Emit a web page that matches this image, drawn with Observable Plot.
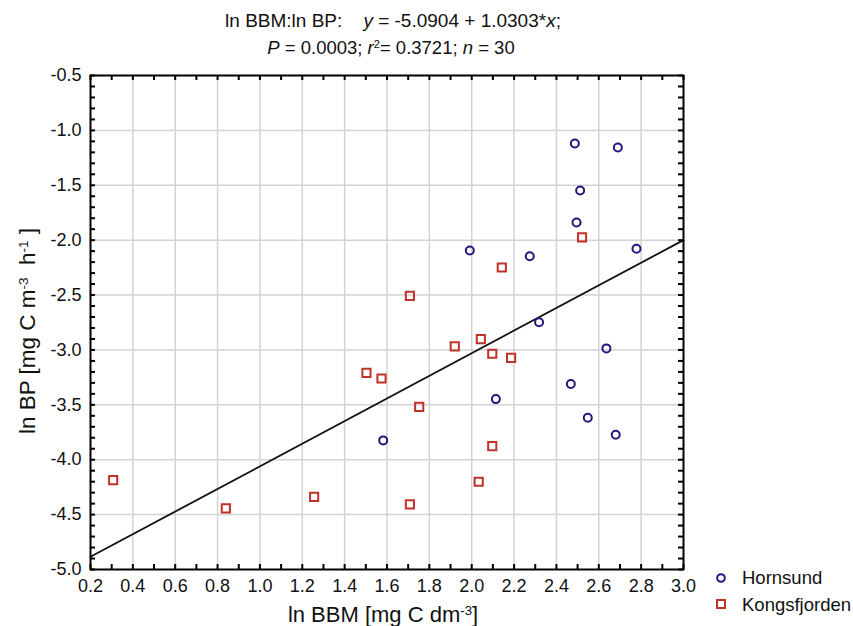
<!DOCTYPE html>
<html><head><meta charset="utf-8">
<script src="https://cdn.jsdelivr.net/npm/d3@7"></script>
<script src="https://cdn.jsdelivr.net/npm/@observablehq/plot@0.6"></script>
<style>
body{margin:0;background:#fff;}
svg{font-family:"Liberation Sans",Arial,sans-serif;}
</style>
</head><body><div id="chart"></div>
<script>
// Hornsund (circles)
const hornsundX = [2.487, 2.690, 2.512, 2.495, 1.991, 2.274, 2.778, 2.318, 2.636, 2.468, 2.114, 2.548, 2.680, 1.582];
const hornsundY = [-1.119, -1.156, -1.547, -1.839, -2.094, -2.146, -2.079, -2.747, -2.986, -3.311, -3.448, -3.618, -3.773, -3.824];
// Kongsfjorden (squares)
const kongsX = [2.521, 2.142, 1.708, 2.043, 1.920, 2.097, 2.186, 1.503, 1.574, 1.752, 2.097, 2.033, 1.708, 0.307, 0.839, 1.256];
const kongsY = [-1.975, -2.249, -2.507, -2.902, -2.968, -3.035, -3.072, -3.209, -3.260, -3.518, -3.876, -4.201, -4.407, -4.186, -4.443, -4.338];
// Regression
const intercept = -5.0904;
const slope = 1.0303;
const lineXs = [0.2, 3.0];
// Ticks
const xTicks = [0.2, 0.4, 0.6, 0.8, 1.0, 1.2, 1.4, 1.6, 1.8, 2.0, 2.2, 2.4, 2.6, 2.8, 3.0];
const yTicks = [-0.5, -1.0, -1.5, -2.0, -2.5, -3.0, -3.5, -4.0, -4.5, -5.0];
const xMinor = d3.range(2, 31).map(i => i / 10);
const yMinor = d3.range(5, 51).map(i => -i / 10);

const hornColor = "#2b137f";
const kongColor = "#c0312a";

const horn = hornsundX.map((x, i) => ({x, y: hornsundY[i]}));
const kong = kongsX.map((x, i) => ({x, y: kongsY[i]}));
const reg = lineXs.map(x => ({x, y: intercept + slope * x}));

const W = 853, H = 626, mT = 75, mB = 57, mL = 90, mR = 170;
const plotW = W - mL - mR, plotH = H - mT - mB, tk = 5;

const chart = Plot.plot({
  width: W, height: H,
  marginTop: mT, marginBottom: mB, marginLeft: mL, marginRight: mR,
  style: {fontFamily: "Liberation Sans, Arial, sans-serif", fontSize: "18px", color: "#111", background: "#fff"},
  x: {domain: [0.2, 3.0]},
  y: {domain: [-5.0, -0.5]},
  marks: [
    Plot.gridX(xTicks.slice(1, -1), {stroke: "#d3d3d3", strokeOpacity: 1, strokeWidth: 1.5}),
    Plot.gridY(yTicks.slice(1, -1), {stroke: "#d3d3d3", strokeOpacity: 1, strokeWidth: 1.5}),
    // inward minor/major ticks
    Plot.ruleX(xMinor, {x: d => d, insetTop: plotH - tk, stroke: "#000", strokeWidth: 2}),
    Plot.ruleX(xMinor, {x: d => d, insetBottom: plotH - tk, stroke: "#000", strokeWidth: 2}),
    Plot.ruleY(yMinor, {y: d => d, insetRight: plotW - tk, stroke: "#000", strokeWidth: 2}),
    Plot.ruleY(yMinor, {y: d => d, insetLeft: plotW - tk, stroke: "#000", strokeWidth: 2}),
    Plot.axisX(xTicks, {anchor: "bottom", tickSize: 0, tickPadding: 10, tickFormat: d => d.toFixed(1), label: null, fontSize: 18}),
    Plot.axisY(yTicks, {anchor: "left", tickSize: 0, tickPadding: 9, tickFormat: d => d.toFixed(1), label: null, fontSize: 18}),
    Plot.line(reg, {x: "x", y: "y", stroke: "#111", strokeWidth: 1.8}),
    Plot.dot(horn, {x: "x", y: "y", symbol: "circle", r: 4, stroke: hornColor, strokeWidth: 2, fill: "none"}),
    Plot.dot(kong, {x: "x", y: "y", symbol: "square", r: 4.6, stroke: kongColor, strokeWidth: 2, fill: "none"}),
    Plot.frame({stroke: "#000", strokeWidth: 2})
  ]
});
document.getElementById("chart").appendChild(chart);

const svg = d3.select(chart);
const font = "Liberation Sans, Arial, sans-serif";
function addText(x, y, parts, size, opts = {}) {
  const t = svg.append("text").attr("x", x).attr("y", y)
    .attr("font-family", font).attr("font-size", size).attr("fill", "#111")
    .attr("text-anchor", opts.anchor || "middle").style("white-space", "pre");
  if (opts.rotate) t.attr("transform", `rotate(-90 ${x} ${y})`);
  for (const p of parts) {
    const s = t.append("tspan").text(p.t);
    if (p.i) s.attr("font-style", "italic");
    if (p.sup) { s.attr("font-size", size * 0.6).attr("baseline-shift", "super"); }
  }
  return t;
}
// Titles
addText(393, 27, [{t: "ln BBM:ln BP:    "}, {t: "y", i: 1}, {t: " = -5.0904 + 1.0303*"}, {t: "x", i: 1}, {t: ";"}], 19);
addText(391, 54, [{t: "P", i: 1}, {t: " = 0.0003; "}, {t: "r", i: 1}, {t: "2", sup: 1}, {t: "= 0.3721; "}, {t: "n", i: 1}, {t: " = 30"}], 18.5);
// Axis labels
addText(383, 622, [{t: "ln BBM [mg C dm"}, {t: "-3", sup: 1}, {t: "]"}], 22);
addText(35, 331, [{t: "ln BP [mg C m"}, {t: "-3", sup: 1}, {t: "  h"}, {t: "-1", sup: 1}, {t: " ]"}], 22.5, {rotate: 1});
// Legend
svg.append("circle").attr("cx", 721).attr("cy", 578).attr("r", 3.8).attr("fill", "none").attr("stroke", hornColor).attr("stroke-width", 2);
svg.append("rect").attr("x", 717).attr("y", 600).attr("width", 8).attr("height", 8).attr("fill", "none").attr("stroke", kongColor).attr("stroke-width", 2);
addText(742, 584, [{t: "Hornsund"}], 18.5, {anchor: "start"});
addText(742, 611, [{t: "Kongsfjorden"}], 18.5, {anchor: "start"});
</script>
</body></html>
